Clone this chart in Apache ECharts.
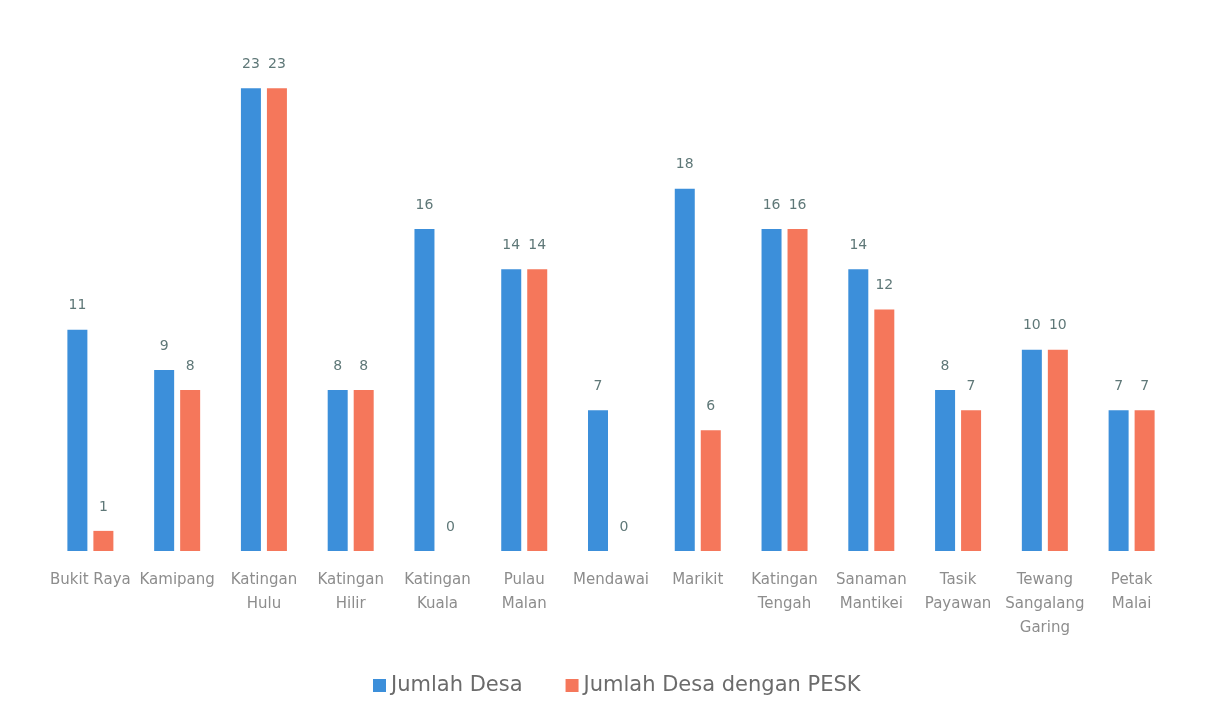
<!DOCTYPE html>
<html>
<head>
<meta charset="utf-8">
<script src="https://cdn.jsdelivr.net/npm/echarts@6/dist/echarts.min.js"></script>
<style>
  html, body { margin: 0; padding: 0; background: #ffffff; }
  #chart { width: 1206px; height: 725px; }
</style>
</head>
<body>
<div id="chart"></div>
<script>
// Kecamatan (districts) on the category axis
const kecamatan = [
  'Bukit Raya', 'Kamipang', 'Katingan Hulu', 'Katingan Hilir', 'Katingan Kuala',
  'Pulau Malan', 'Mendawai', 'Marikit', 'Katingan Tengah', 'Sanaman Mantikei',
  'Tasik Payawan', 'Tewang Sangalang Garing', 'Petak Malai'
];
// Number of villages per district
const jumlahDesa = [11, 9, 23, 8, 16, 14, 7, 18, 16, 14, 8, 10, 7];
// Number of villages with PESK
const jumlahDesaPESK = [1, 8, 23, 8, 0, 14, 0, 6, 16, 12, 7, 10, 7];

const seriesNames = ['Jumlah Desa', 'Jumlah Desa dengan PESK'];
const colors = ['#3c8fda', '#f5775b'];
const font = '"DejaVu Sans", "Noto Sans", sans-serif';

const chart = echarts.init(document.getElementById('chart'));

const valueLabel = {
  show: true,
  position: 'top',
  distance: 17,
  color: '#5f7878',
  fontSize: 14,
  fontFamily: font
};

// Names wider than one category slot wrap word by word
function wrapName(name) {
  return name.length > 10 ? name.split(' ').join('\n') : name;
}

chart.setOption({
  animation: false,
  grid: { left: 47, right: 31, top: 48, bottom: 174 },
  legend: {
    data: seriesNames,
    bottom: 24,
    left: 368,
    itemWidth: 13,
    itemHeight: 13,
    itemGap: 43,
    icon: 'rect',
    textStyle: { color: '#6b6b6b', fontSize: 21, fontFamily: font }
  },
  xAxis: {
    type: 'category',
    data: kecamatan,
    axisLine: { show: false },
    axisTick: { show: false },
    axisLabel: {
      interval: 0,
      margin: 17,
      color: '#8d8d8d',
      fontSize: 15,
      fontFamily: font,
      lineHeight: 24,
      formatter: wrapName
    }
  },
  yAxis: {
    type: 'value',
    min: 0,
    max: 25,
    show: false,
    splitLine: { show: false }
  },
  series: [
    {
      name: seriesNames[0],
      type: 'bar',
      data: jumlahDesa,
      barWidth: 20,
      barGap: '30%',
      itemStyle: { color: colors[0] },
      label: valueLabel
    },
    {
      name: seriesNames[1],
      type: 'bar',
      data: jumlahDesaPESK,
      barWidth: 20,
      itemStyle: { color: colors[1] },
      label: valueLabel
    }
  ]
});
</script>
</body>
</html>
